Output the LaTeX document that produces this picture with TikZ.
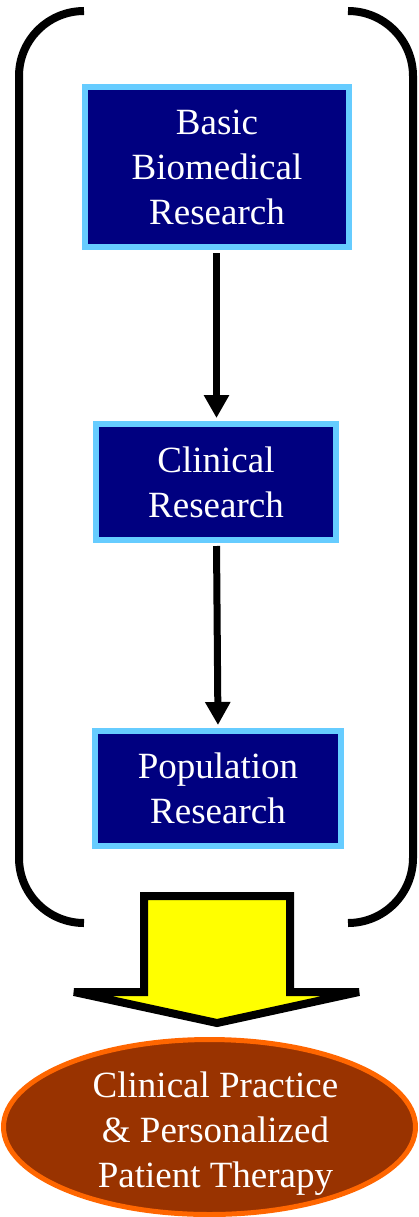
\documentclass[tikz,border=0pt]{standalone}
\usepackage{fontspec}
\setmainfont{Liberation Serif}
\usetikzlibrary{arrows.meta,shapes.geometric}
\definecolor{boxfill}{HTML}{000080}
\definecolor{boxline}{HTML}{66CCFF}
\definecolor{ellfill}{HTML}{993300}
\definecolor{ellline}{HTML}{FF6600}
\definecolor{bigarrow}{HTML}{FFFF00}
\tikzset{
  stage/.style={draw=boxline, fill=boxfill, line width=6pt, text=white, align=center,
    font=\fontsize{37}{45}\selectfont, inner sep=0pt},
  flow/.style={line width=7pt, -{Triangle[width=24pt,length=23pt]}, shorten >=3pt, shorten <=3pt},
  bracketline/.style={line width=8pt, rounded corners=65pt},
  outcome/.style={ellipse, draw=ellline, fill=ellfill, line width=5pt, inner sep=0pt},
  outtext/.style={text=white, align=center, font=\fontsize{37}{45}\selectfont, inner sep=0pt}
}
\begin{document}
\begin{tikzpicture}[x=1pt,y=-1pt]
\useasboundingbox (0,0) rectangle (418,1217);
% bracket
\draw[bracketline] (84,11) -- (19,11) -- (19,923) -- (84,923);
\draw[bracketline] (348,11) -- (413,11) -- (413,923) -- (348,923);
% boxes
\node[stage, minimum width=264pt, minimum height=160pt] (b1) at (217,167) {Basic\\Biomedical\\Research};
\node[stage, minimum width=240pt, minimum height=116pt] (b2) at (216,482) {Clinical\\Research};
\node[stage, minimum width=246pt, minimum height=115pt] (b3) at (218,788.5) {Population\\Research};
% arrows
\draw[flow] ([xshift=-0.5pt]b1.south) -- ([xshift=0.5pt]b2.north);
\draw[flow] ([xshift=0.5pt]b2.south) -- (b3.north);
% big arrow
\draw[line width=8pt, fill=bigarrow, line join=miter, miter limit=4]
  (144,896) -- (290,896) -- (290,992) -- (359,992) -- (217,1023) -- (74,992) -- (144,992) -- cycle;
% outcome
\node[outcome, minimum width=412pt, minimum height=175pt] (e) at (209.5,1127) {};
\node[outtext] (et) at (215.5,1134) {Clinical Practice\\\& Personalized\\Patient Therapy};
\end{tikzpicture}
\end{document}
